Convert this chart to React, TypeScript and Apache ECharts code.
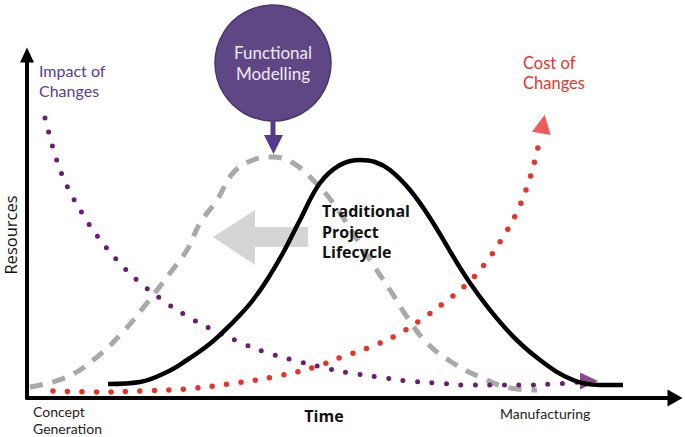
import React, { useEffect, useRef } from "react";
import * as echarts from "echarts";

// Conceptual curves, x = time (0..648), y = resources (0..343)
const lifecycleCurve: number[][] = [
  [81, 14], [113, 16], [140, 26], [160, 38], [180, 52], [196, 66], [213, 83],
  [226, 98], [240, 118], [256, 145], [273, 178], [293, 215], [313, 233],
  [333, 238], [348, 236], [363, 228], [383, 208], [403, 180], [443, 115],
  [480, 68], [513, 38], [546, 18], [573, 13], [596, 13],
];
const functionalCurve: number[][] = [
  [3, 11], [40, 21], [70, 41], [96, 66], [116, 90], [143, 125], [160, 148],
  [173, 175], [190, 198], [206, 225], [226, 238], [246, 241], [266, 235],
  [286, 218], [306, 195], [343, 138], [363, 108], [380, 81], [400, 55],
  [426, 35], [453, 21], [483, 10], [510, 8],
];
const impactCurve: number[][] = [
  [18, 280], [30, 237], [41, 210], [55, 185], [71, 161], [90, 138], [111, 117],
  [134, 99], [158, 83], [184, 69], [210, 57], [238, 46], [266, 38], [294, 31],
  [323, 25], [351, 21], [381, 17], [410, 15], [440, 13], [468, 13], [498, 13],
  [526, 14], [553, 16],
];
const costCurve: number[][] = [
  [26, 7], [71, 6], [115, 7], [158, 9], [202, 14], [246, 21], [288, 31],
  [315, 41], [343, 51], [370, 63], [395, 79], [418, 96], [441, 115],
  [460, 137], [476, 161], [490, 186], [501, 214], [509, 242], [512, 256],
];
const impactArrow: number[][] = [[562, 17]];
const costArrow: number[][] = [[516, 274]];

const impactLabel = ["Impact of", "Changes"];
const costLabel = ["Cost of", "Changes"];
const circleLabel = ["Functional", "Modelling"];
const lifecycleLabel = ["Traditional", "Project", "Lifecycle"];
const xAxisName = "Time";
const yAxisName = "Resources";
const startLabel = ["Concept", "Generation"];
const endLabel = "Manufacturing";

const FONT = "'Open Sans', 'Noto Sans', sans-serif";
const FONT2 = "Lato, 'Open Sans', sans-serif";
const PURPLE_DOT = "#6c1c72";
const PURPLE_TEXT = "#5b3a92";
const RED = "#e8332d";

export default function App() {
  const ref = useRef<HTMLDivElement>(null);
  useEffect(() => {
    document.body.style.margin = "0";
    const chart = echarts.init(ref.current!, null, { renderer: "svg" });

    const txt = (lines: string[] | string, x: number, y: number, size: number, color: string, opts: any = {}) => ({
      type: "text",
      z: 100,
      x,
      y,
      rotation: opts.rotation || 0,
      style: {
        text: Array.isArray(lines) ? lines.join("\n") : lines,
        x: 0,
        y: 0,
        fill: color,
        font: `${opts.bold ? "bold " : ""}${size}px ${opts.font || FONT}`,
        lineHeight: opts.lh || size * 1.2,
        textAlign: opts.align || "left",
        textVerticalAlign: "middle",
      },
    });

    const graphics: any[] = [
      // big grey arrow
      {
        type: "polygon",
        z: 0,
        shape: {
          points: [[213, 237], [255, 210], [255, 227], [308, 227], [308, 247], [255, 247], [255, 265]],
        },
        style: { fill: "#d5d5d5" },
      },
      // Functional modelling circle
      {
        type: "circle",
        z: 100,
        shape: { cx: 273, cy: 63, r: 58 },
        style: { fill: "#5e4784", stroke: "#4b376d", lineWidth: 1.5 },
      },
      {
        type: "line",
        z: 100,
        shape: { x1: 273, y1: 120, x2: 273, y2: 138 },
        style: { stroke: "#563a8a", lineWidth: 5 },
      },
      {
        type: "polygon",
        z: 100,
        shape: { points: [[264, 135], [283, 135], [273.5, 154]] },
        style: { fill: "#563a8a" },
      },
      txt(circleLabel, 273, 63, 17, "#eeeaf3", { align: "center", lh: 20.5, font: FONT2 }),
      txt(impactLabel, 39, 80.5, 16, PURPLE_TEXT, { lh: 19.2, font: FONT2 }),
      txt(costLabel, 523, 73, 16.5, RED, { lh: 20, font: FONT2 }),
      txt(lifecycleLabel, 322, 231.5, 16, "#111", { bold: true, lh: 20.5 }),
      txt(xAxisName, 324, 416, 16, "#111", { bold: true, align: "center" }),
      txt(yAxisName, 10, 235, 16.5, "#111", { align: "center", rotation: Math.PI / 2 }),
      txt(startLabel, 33, 420, 14, "#222", { lh: 17, font: FONT2 }),
      txt(endLabel, 500, 413, 14, "#222", { font: FONT2 }),
    ];

    chart.setOption({
      animation: false,
      grid: { left: 27, right: 10, top: 55, bottom: 39 },
      xAxis: {
        type: "value",
        min: 0,
        max: 648,
        axisLine: {
          show: true,
          symbol: ["none", "triangle"],
          symbolSize: [17, 15],
          lineStyle: { color: "#000", width: 4 },
        },
        axisTick: { show: false },
        axisLabel: { show: false },
        splitLine: { show: false },
      },
      yAxis: {
        type: "value",
        min: 0,
        max: 343,
        axisLine: {
          show: true,
          symbol: ["none", "triangle"],
          symbolSize: [14, 15],
          lineStyle: { color: "#000", width: 4 },
        },
        axisTick: { show: false },
        axisLabel: { show: false },
        splitLine: { show: false },
      },
      series: [
        {
          type: "line",
          name: "Functional Modelling",
          data: functionalCurve,
          smooth: 0.4,
          showSymbol: false,
          z: 3,
          lineStyle: { color: "#a9a9a9", width: 5, type: [13, 10], cap: "butt" },
        },
        {
          type: "line",
          name: "Impact of Changes",
          data: impactCurve,
          smooth: 0.4,
          showSymbol: false,
          z: 4,
          lineStyle: { color: PURPLE_DOT, width: 5, type: [0, 14.5], cap: "round" },
        },
        {
          type: "line",
          name: "Cost of Changes",
          data: costCurve,
          smooth: 0.4,
          showSymbol: false,
          z: 4,
          lineStyle: { color: RED, width: 5.5, type: [0, 14.5], cap: "round" },
        },
        {
          type: "line",
          name: "Traditional Project Lifecycle",
          data: lifecycleCurve,
          smooth: 0.4,
          showSymbol: false,
          z: 5,
          lineStyle: { color: "#000", width: 4.5 },
        },
        {
          type: "scatter",
          data: impactArrow,
          symbol: "triangle",
          symbolSize: [17, 18],
          symbolRotate: -90,
          z: 4,
          itemStyle: { color: PURPLE_DOT },
        },
        {
          type: "scatter",
          data: costArrow,
          symbol: "triangle",
          symbolSize: [19, 19],
          symbolRotate: -10,
          z: 4,
          itemStyle: { color: RED },
        },
      ],
      graphic: graphics,
    });
    return () => chart.dispose();
  }, []);
  return <div ref={ref} style={{ width: 685, height: 437 }} />;
}
